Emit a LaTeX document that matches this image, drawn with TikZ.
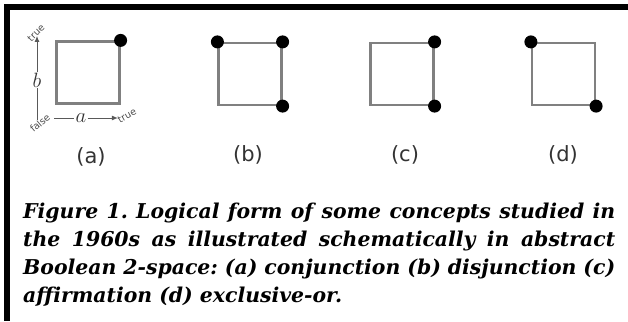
\documentclass[tikz,border=0pt]{standalone}
\usepackage{fontspec}
\setmainfont{DejaVu Serif}
\newfontfamily\lblfont{DejaVu Sans}
\usepackage{tikz}
\usetikzlibrary{arrows.meta,positioning,calc}

\newcommand{\capline}[1]{\makebox[592pt][s]{#1}}

\begin{document}
\frenchspacing
\begin{tikzpicture}[x=1pt,y=-1pt,
        sq/.style={draw=black!50, line width=2.2pt, minimum width=63pt,
                   minimum height=62pt, inner sep=0pt},
        dot/.style={circle, fill=black, inner sep=0pt, minimum size=13pt},
        sublbl/.style={font=\lblfont\fontsize{21}{21}\selectfont, text=black!80},
        tf/.style={font=\lblfont\fontsize{9.5}{9.5}\selectfont, text=black!70, inner sep=0.5pt},
        var/.style={font=\fontsize{22}{22}\selectfont, text=black!80, inner sep=1pt},
        axis/.style={draw=black!65, line width=1pt},
        axarrow/.style={axis, -{Latex[length=6pt,width=5pt]}},
        caption/.style={font=\bfseries\itshape\fontsize{20.4}{28}\selectfont,
                        align=left, inner sep=0pt, anchor=north west}
    ]
        \useasboundingbox (0,0) rectangle (628,321);
        % frame bars
        \fill[black] (4,4) rectangle (628,10);
        \fill[black] (4,4) rectangle (10,321);

        % the four squares
        \node[sq] (sqa) at (88,72.5) {};
        \node[sq] (sqb) at (250,74) {};
        \node[sq] (sqc) at (402,74) {};
        \node[sq] (sqd) at (563.5,74) {};

        \node[dot] at (sqa.north east) {};
        \node[dot] at (sqb.north west) {}; \node[dot] at (sqb.north east) {};
        \node[dot] at (sqb.south east) {};
        \node[dot] at (sqc.north east) {}; \node[dot] at (sqc.south east) {};
        \node[dot] at (sqd.north west) {}; \node[dot] at (sqd.south east) {};

        % axes of (a)
        \node[var] (vb) at (37,80) {$b$};
        \node[var] (va) at (81,118) {$a$};
        \node[tf, rotate=45] (btrue) at (36,33) {true};
        \node[tf, rotate=40] (afalse) at (40,123) {false};
        \node[tf, rotate=30] (atrue) at (127,116) {true};

        \draw[axis] (vb.south) -- (vb.south |- afalse.north);
        \draw[axarrow] (vb.north) -- (vb.north |- btrue.south);
        \draw[axis, shorten <=5pt] (va.west -| afalse.east) -- (va.west);
        \draw[axarrow] (va.east) -- (va.east -| atrue.west);

        % sub labels
        \node[sublbl] (la) at (91,157) {(a)};
        \node[sublbl] (lb) at (248,155) {(b)};
        \node[sublbl] (lc) at (405,155) {(c)};
        \node[sublbl] (ld) at (563,155) {(d)};

        % caption
        \node[caption] (cap) at (23,203) {\capline{Figure 1. Logical form of some concepts studied in}\\
            \capline{the 1960s as illustrated schematically in abstract}\\
            \capline{Boolean 2-space: (a) conjunction (b) disjunction (c)}\\
            affirmation (d) exclusive-or.};
    \end{tikzpicture}
\end{document}
